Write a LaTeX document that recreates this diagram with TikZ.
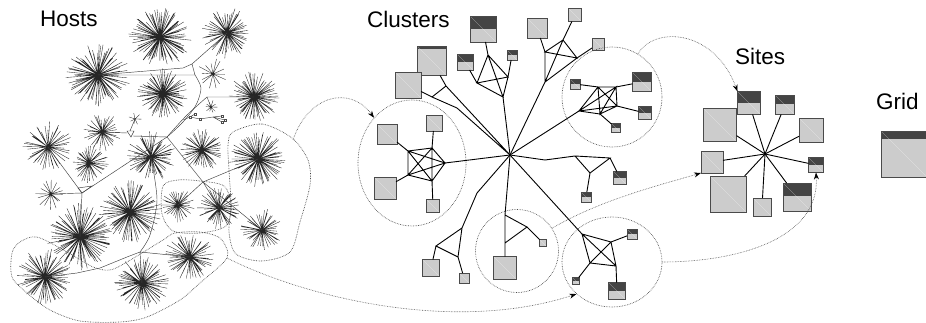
\documentclass[tikz,border=0pt]{standalone}
\usepackage{fontspec}
\setmainfont{Liberation Sans}
\usetikzlibrary{shapes.geometric,arrows.meta,calc}
\definecolor{sqfill}{HTML}{CCCCCC}
\definecolor{sqdraw}{HTML}{4A4A4A}
\definecolor{hdr}{HTML}{444444}
\tikzset{
 sq/.style={draw=sqdraw, fill=sqfill, line width=0.9pt, minimum size=#1, inner sep=0pt, outer sep=0pt,
   path picture={\draw[white,opacity=0.55,line width=0.3pt] (path picture bounding box.north west) -- (path picture bounding box.south east);}},
 sqh/.style 2 args={draw=sqdraw, fill=sqfill, line width=0.9pt, minimum size=#1, inner sep=0pt, outer sep=0pt,
   path picture={\fill[hdr] (path picture bounding box.north west) rectangle ($(path picture bounding box.north east)!#2!(path picture bounding box.south east)$);
   \draw[white,opacity=0.55,line width=0.3pt] (path picture bounding box.north west) -- (path picture bounding box.south east);}},
 tinysq/.style={draw=black!70, fill=white, line width=0.4pt, minimum size=2.5pt, inner sep=0pt, outer sep=0pt},
 lnk/.style={line width=0.9pt, black},
 ray/.style={line width=0.35pt, black!85},
 tree/.style={line width=0.45pt, black!75},
 hull/.style={draw=gray!60!black, densely dotted, line width=0.65pt, inner sep=0pt},
 hullpath/.style={draw=gray!50!black, densely dotted, line width=0.65pt},
 flow/.style={draw=gray!60!black, densely dotted, line width=0.6pt, -{Stealth[length=7pt,width=5pt,black]}},
 lbl/.style={font=\fontsize{22.5}{27}\selectfont, inner sep=0pt, anchor=base west}
}
\newcommand\hoststar[4]{%
  \draw[ray] \foreach \k in {1,...,#4}{ (#1,#2) -- ++({\k*(360/#4)+4*rnd}:{#3*(0.6+0.4*rnd)}) };}
\begin{document}
\begin{tikzpicture}[x=1pt,y=-1pt]
\pgfmathsetseed{3}
\fill[white] (0,0) rectangle (926,323);
\useasboundingbox (0,0) rectangle (926,323);

% ---------------- Hosts ----------------
\node[lbl] (lh) at (40,27) {Hosts};
\hoststar{160}{37}{32}{80}
\hoststar{227}{33}{26}{60}
\hoststar{98}{75}{33}{80}
\hoststar{163}{94}{26}{70}
\hoststar{213}{74}{17}{14}
\hoststar{254}{97}{26}{60}
\hoststar{211}{107}{7}{10}
\hoststar{102}{132}{20}{34}
\hoststar{48}{147}{26}{42}
\hoststar{89}{163}{20}{38}
\hoststar{151}{157}{26}{56}
\hoststar{202}{150}{22}{44}
\hoststar{258}{159}{30}{70}
\hoststar{51}{194}{16}{16}
\hoststar{130}{212}{32}{76}
\hoststar{178}{205}{18}{32}
\hoststar{219}{208}{22}{48}
\hoststar{262}{230}{22}{42}
\hoststar{80}{237}{34}{80}
\hoststar{190}{257}{26}{54}
\hoststar{45}{277}{30}{64}
\hoststar{142}{283}{28}{64}
\hoststar{135}{119}{7}{7}

% host tree
\coordinate (t1) at (167,137);
\coordinate (t4) at (82,193);
\coordinate (t5) at (203,182);
\coordinate (t6) at (140,252);
\coordinate (ta) at (183,68);
\coordinate (tb) at (192,64);
\coordinate (tc) at (195,75);
\coordinate (td) at (207,97);
\draw[tree] (98,75) -- (ta) -- (tb) -- (tc) -- cycle (tb) -- (227,33);
\draw[tree] plot[smooth] coordinates {(195,75) (201,88) (196,105) (183,122) (167,137)};
\draw[tree] plot[smooth] coordinates {(167,137) (186,116) (207,97)} -- (254,97);
\draw[tree] (td) -- (211,107);
\draw[tree] (t1) -- (t4) -- (51,194) (t4) -- (80,237) (t4) -- (48,147);
\draw[tree] (78,188) -- (92,186) -- (t4) -- cycle;
\draw[tree] (t1) -- (133,136) (127,131) -- (134,131) -- (131,137) -- cycle (127,133) -- (102,132) (130,131) -- (135,119);
\draw[tree] (t1) -- (t5) -- (258,159) (t5) -- (262,230) (t5) -- (178,205) (t5) -- (219,208);
\draw[tree] (45,277) -- (77,273) -- (100,268) -- (127,257) -- (t6) -- (142,283) (t6) -- (190,257);
\draw[tree] plot[smooth] coordinates {(140,252) (150,235) (157,200) (151,157)};
\draw[tree] (183,120) -- (190,117) -- (195,114) (190,117) -- (200,119) -- (213,117) -- (222,116) (213,117) -- (225,120) (213,117) -- (222,122);
\foreach \p in {(190,117),(195,114),(200,119),(222,116),(225,120),(222,122)} \node[tinysq] at \p {};

% hulls
\draw[hullpath] plot[smooth cycle] coordinates {(233,132) (262,124) (292,138) (308,160) (310,185) (300,222) (290,252) (262,261) (236,254) (229,232) (231,205) (229,170) (228,145)};
\draw[hullpath] plot[smooth cycle] coordinates {(163,186) (178,180) (200,181) (224,186) (231,205) (226,226) (200,233) (173,231) (162,214)};
\draw[hullpath] plot[smooth cycle] coordinates {(37,237) (67,252) (93,267) (110,270) (127,262) (163,240) (175,233) (200,232) (220,238) (228,253) (223,263) (200,283) (180,300) (147,317) (120,322) (80,321) (50,310) (27,293) (12,277) (12,253) (20,242)};
\coordinate (hA) at (293,140);
\coordinate (hC) at (227,258);

% ---------------- Clusters ----------------
\node[lbl] (lc) at (367,28) {Clusters};
\coordinate (C) at (510,155);

% left circle
\node[hull, ellipse, minimum width=108pt, minimum height=126pt] (cL) at (412,163) {};
\coordinate (p1) at (408,151); \coordinate (p2) at (432,148); \coordinate (p3) at (445,163);
\coordinate (p4) at (432,181); \coordinate (p5) at (408,175);
\node[sq=20pt] (a1) at (387,134) {};
\node[sq=16pt] (a2) at (434,123) {};
\node[sq=22pt] (a3) at (385,188) {};
\node[sq=13pt] (a4) at (433,206) {};
\draw[lnk] (p1)--(p2)--(p3)--(p4)--(p5)--cycle (p1)--(p3)--(p5)--(p2)--(p4)--(p1);
\draw[lnk] (a1)--(p1) (a2)--(p2) (a3)--(p5) (a4)--(p4) (p3)--(C);

% upper-left branch
\coordinate (q1) at (457,108); \coordinate (q2) at (432,97); \coordinate (q3) at (446,86);
\node[sqh={29pt}{0.08}] (b1) at (432,61) {};
\node[sq=26pt] (b2) at (408,85) {};
\draw[lnk] (C)--(q1)--(q2)--(q3)--cycle (b1)--(q3) (b2)--(q2);

% upper branch
\coordinate (r1) at (477,83); \coordinate (r2) at (488,55); \coordinate (r3) at (508,77); \coordinate (r4) at (503,97);
\node[sqh={26pt}{0.5}] (c1) at (483,29) {};
\node[sqh={16pt}{0.5}] (c2) at (465,62) {};
\node[sqh={10pt}{0.5}] (c3) at (512,55) {};
\draw[lnk] (r1)--(r2)--(r3)--(r1)--(r4)--(r2) (r3)--(r4) (C)--(r4) (c1)--(r2) (c2)--(r1) (c3)--(r3);

% upper-right branch
\coordinate (s1) at (545,52); \coordinate (s2) at (563,40); \coordinate (s3) at (577,58); \coordinate (s4) at (545,82);
\node[sq=20pt] (d1) at (537,28) {};
\node[sq=13pt] (d2) at (575,15) {};
\node[sq=12pt] (d3) at (598,44) {};
\draw[lnk] (s1)--(s2)--(s3)--cycle (s4)--(s1) (s4)--(s2) (s4)--(s3) (C)--(s4) (d1)--(s1) (d2)--(s2) (d3)--(s3);

% right circle
\node[hull, circle, minimum size=100pt] (cR) at (612,97) {};
\coordinate (u1) at (598,87); \coordinate (u2) at (616,87); \coordinate (u3) at (617,106);
\coordinate (u4) at (600,114); \coordinate (u5) at (579,111);
\node[sqh={10pt}{0.5}] (e1) at (575,84) {};
\node[sqh={19pt}{0.5}] (e2) at (642,82) {};
\node[sqh={13pt}{0.5}] (e3) at (645,113) {};
\node[sqh={9pt}{0.5}] (e4) at (616,128) {};
\draw[lnk] (u1)--(u2)--(u3)--(u4)--(u5)--cycle (u1)--(u3)--(u5)--(u2)--(u4)--(u1);
\draw[lnk] (e1)--(u1) (e2)--(u2) (e3)--(u3) (e4)--(u4) (u5)--(C);

% right branch
\coordinate (v0) at (545,160); \coordinate (v1) at (575,156); \coordinate (v2) at (610,158); \coordinate (v3) at (590,173);
\node[sqh={13pt}{0.5}] (f1) at (620,178) {};
\node[sqh={10pt}{0.5}] (f2) at (586,197) {};
\draw[lnk] (C)--(v0)--(v1)--(v2)--(v3)--(v1) (v2)--(f1) (v3)--(f2);

% bottom-right circle
\node[hull, ellipse, minimum width=100pt, minimum height=90pt] (cBR) at (612,262) {};
\coordinate (w1) at (582,234); \coordinate (w2) at (611,242); \coordinate (w3) at (616,266); \coordinate (w4) at (590,263);
\node[sqh={10pt}{0.5}] (g1) at (632,234) {};
\node[sqh={17pt}{0.5}] (g2) at (617,291) {};
\node[sqh={7pt}{0.5}] (g3) at (576,281) {};
\draw[lnk] (w1)--(w2)--(w3)--(w4)--cycle (w1)--(w3) (w2)--(w4) (C)--(w1) (w2)--(g1) (w3)--(g2) (w4)--(g3);

% bottom circle
\node[hull, circle, minimum size=83pt] (cB) at (517,251) {};
\coordinate (x1) at (505,215); \coordinate (x2) at (527,227); \coordinate (x3) at (505,243);
\node[sq=23pt] (h1) at (505,268) {};
\node[sq=7pt] (h2) at (543,243) {};
\draw[lnk] (C)--(x1)--(x2)--(x3)--(x1) (x3)--(h1) (x2)--(h2);

% bottom-left branch
\coordinate (y0) at (477,193); \coordinate (y1) at (462,228); \coordinate (y2) at (436,246); \coordinate (y3) at (458,257);
\node[sq=17pt] (k1) at (431,268) {};
\node[sq=10pt] (k2) at (464,278) {};
\draw[lnk] (C)--(y0)--(y1)--(y2)--(y3)--(y1) (y2)--(k1) (y3)--(k2);

% ---------------- Sites ----------------
\node[lbl] (ls) at (735,65) {Sites};
\coordinate (S) at (765,154);
\node[sqh={23pt}{0.48}] (m1) at (749,103) {};
\node[sqh={19pt}{0.45}] (m2) at (785,105) {};
\node[sq=33pt] (m3) at (720,125) {};
\node[sq=24pt] (m4) at (811,130) {};
\node[sq=22pt] (m5) at (712,162) {};
\node[sqh={15pt}{0.5}] (m6) at (816,165) {};
\node[sq=36pt] (m7) at (728,194) {};
\node[sq=18pt] (m8) at (762,207) {};
\node[sqh={28pt}{0.45}] (m9) at (797,197) {};
\foreach \n in {1,...,9} \draw[lnk] (S)--(m\n);

% ---------------- Grid ----------------
\node[lbl] (lg) at (876,110) {Grid};
\node[sqh={46pt}{0.18}] (grid) at (904,154) {};

% ---------------- flows ----------------
\draw[flow] (hA) .. controls (308,95) and (350,85) .. (cL.130);
\draw[flow] (hC) .. controls (300,295) and (450,335) .. (cBR.222);
\draw[flow] (cR.59) .. controls (655,25) and (715,30) .. (m1.north west);
\draw[flow] (cB.33) .. controls (600,200) and (660,185) .. (m5.south west);
\draw[flow] (cBR.0) .. controls (735,262) and (820,240) .. (m6.south);
\end{tikzpicture}
\end{document}
